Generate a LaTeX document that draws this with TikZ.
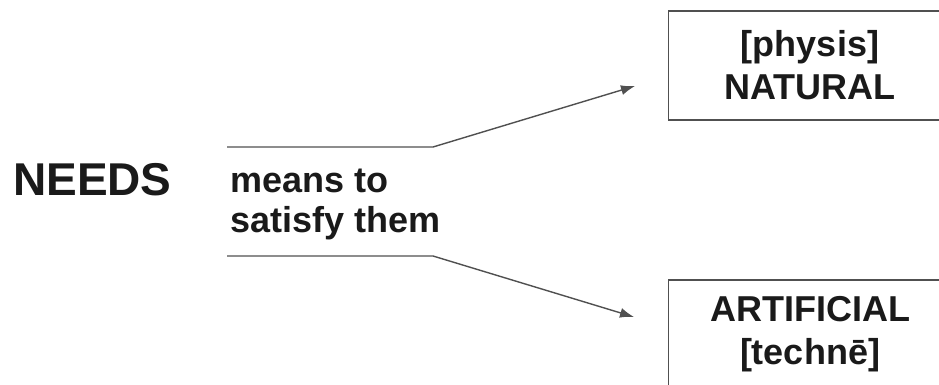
\documentclass[tikz,border=0pt]{standalone}
\usepackage{fontspec}
\setmainfont{Liberation Sans}
\usetikzlibrary{arrows.meta}
\definecolor{ink}{HTML}{1A1A1A}
\definecolor{edge}{HTML}{505050}
\tikzset{
  boxframe/.style={draw=edge, line width=1.4pt, minimum width=360pt, minimum height=109pt,
    inner sep=0pt, anchor=west},
  boxtext/.style={inner sep=0pt, align=center, font=\fontsize{36}{43}\selectfont\bfseries, text=ink},
  lbl/.style={inner sep=0pt, text=ink},
  conn/.style={draw=edge, line width=1.4pt},
  arr/.style={conn, -{Latex[length=14pt,width=10pt]}}
}
\begin{document}
\begin{tikzpicture}[x=1pt,y=-1pt]
\useasboundingbox (0,0) rectangle (939,385);
\begin{scope}
\clip (0,0) rectangle (939,385);
\node[boxframe] (natbox) at (668,65.5) {};
\node[boxframe] (artbox) at (668,334.5) {};
\end{scope}
\node[boxtext] (nat) at (810,65.5) {[physis]\\NATURAL};
\node[boxtext] (art) at (810,334.5) {ARTIFICIAL\\{}[technē]};
\node[lbl, anchor=base west, font=\fontsize{46}{46}\selectfont\bfseries] (needs) at (13,195) {NEEDS};
\node[lbl, anchor=base west, font=\fontsize{36}{40}\selectfont\bfseries] (means) at (230,192) {means to};
\node[lbl, anchor=base west, font=\fontsize{36}{40}\selectfont\bfseries] (satisfy) at (230,232) {satisfy them};
\coordinate (ts) at (227,147);
\coordinate (tk) at (433,147);
\coordinate (tt) at (635,86);
\coordinate (bs) at (227,256);
\coordinate (bk) at (433,256);
\coordinate (bt) at (634,317);
\draw[arr] (ts) -- (tk) -- (tt);
\draw[arr] (bs) -- (bk) -- (bt);
\end{tikzpicture}
\end{document}
